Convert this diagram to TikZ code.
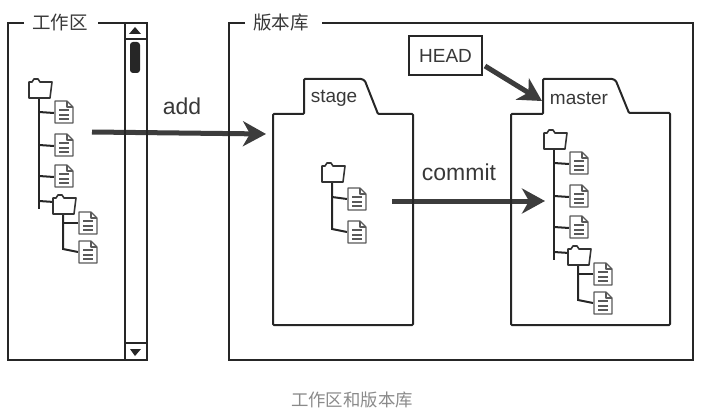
\documentclass[tikz,border=0pt]{standalone}
\usepackage{fontspec}
\setmainfont{Liberation Sans}
\newfontfamily\cjkfont{Noto Sans CJK SC}
\usetikzlibrary{arrows.meta}

\definecolor{arrowgray}{HTML}{3C3C3C}
\definecolor{labelgray}{HTML}{383838}
\definecolor{captiongray}{HTML}{8A8A8A}

\tikzset{
  frameline/.style={draw=black!85, line width=2pt},
  treeline/.style={draw=black!85, line width=2pt},
  iconline/.style={draw=black!65, line width=1.2pt, line join=round},
  flowarrow/.style={draw=arrowgray, line width=5pt, -{Stealth[length=23pt,width=25pt,inset=7pt]}},
  smalltext/.style={text=labelgray, font=\fontsize{19}{22}\selectfont},
  bigtext/.style={text=labelgray, font=\fontsize{23}{26}\selectfont},
  cjktext/.style={text=labelgray, font=\cjkfont\fontsize{18.5}{22}\selectfont},
  fileicon/.pic={
    \draw[iconline, fill=white] (-9,-11) -- (3,-11) -- (9,-5) -- (9,11) -- (-9,11) -- cycle;
    \draw[iconline] (3,-11) -- (3,-5) -- (9,-5);
    \foreach \y in {-2,3,7} {
      \draw[iconline] (-5,\y) -- (5,\y);
    }
  },
  foldericon/.pic={
    \draw[iconline, line width=1.6pt, draw=black!80, fill=white] (-11,-7) -- (-8,-7) -- (-6,-10) -- (-2,-10) -- (0,-7) -- (12,-7) -- (10,9) -- (-11,9) -- cycle;
  },
  fulltree/.pic={
    \draw[treeline] (-1,9) -- (-1,120);
    \draw[treeline] (23,125) -- (23,160) -- (38,163);
    \draw[treeline] (23,134) -- (38,134);
    \foreach \y in {23,56,87,112} {
      \draw[treeline] (-1,\y) -- (14,\y+1);
    }
    \pic at (0,0) {foldericon};
    \foreach \y in {23,56,87} {
      \pic at (24,\y) {fileicon};
    }
    \pic at (24,116) {foldericon};
    \pic at (48,134) {fileicon};
    \pic at (48,163) {fileicon};
  }
}

\begin{document}
\begin{tikzpicture}[x=1pt,y=-1pt]
  \useasboundingbox (0,0) rectangle (705,420);
  % arrows
  \coordinate (addstart) at (92,132);
  \coordinate (addend) at (266,134);
  \coordinate (commitstart) at (392,201);
  \coordinate (commitend) at (545,201);
  \coordinate (headstart) at (485,66);
  \coordinate (headend) at (542,101);
  \draw[flowarrow] (addstart) -- (addend);
  \draw[flowarrow] (commitstart) -- (commitend);
  \draw[flowarrow] (headstart) -- (headend);
  % work area
  \draw[frameline] (24,23) -- (8,23) -- (8,360) -- (147,360) -- (147,23) -- (98,23);
  \draw[frameline] (125,23) -- (125,360);
  \draw[frameline] (125,39) -- (147,39);
  \draw[frameline] (125,343) -- (147,343);
  \fill[black!85] (129,34) -- (141,34) -- (135,27) -- cycle;
  \fill[black!85] (130,349) -- (141,349) -- (135,356) -- cycle;
  \fill[black!85, rounded corners=3pt] (130,42) rectangle (140,73);
  \node[cjktext] (worklabel) at (60,22) {工作区};
  \pic at (40,89) {fulltree};
  % repository
  \draw[frameline] (245,23) -- (229,23) -- (229,360) -- (693,360) -- (693,23) -- (322,23);
  \node[cjktext] (repolabel) at (281,22) {版本库};
  % stage and master
  \draw[frameline, rounded corners=1pt] (273,325) -- (273,114) -- (304,114) -- (304,79) -- (362,79) -- (365,81) -- (378,114) -- (413,114) -- (413,325) -- cycle;
  \draw[frameline, rounded corners=1pt] (511,325) -- (511,114) -- (543,114) -- (543,79) -- (613,79) -- (616,81) -- (629,113) -- (670,113) -- (670,325) -- cycle;
  \node[smalltext] (stage) at (334,98) {stage};
  \node[smalltext] (master) at (579,98) {master};
  \node[draw=black!85, line width=2pt, fill=white, minimum width=73pt, minimum height=39pt, inner sep=0pt, smalltext] (head) at (445.5,55.5) {HEAD};
  % stage tree
  \draw[treeline] (332,182) -- (332,229) -- (347,232);
  \draw[treeline] (332,197) -- (347,199);
  \pic at (333,173) {foldericon};
  \foreach \y in {199,232} {
    \pic at (357,\y) {fileicon};
  }
  \pic at (555,140) {fulltree};
  \node[bigtext] (addlabel) at (182,106) {add};
  \node[bigtext] (commitlabel) at (459,172) {commit};
  \node[text=captiongray, font=\cjkfont\fontsize{17.4}{20}\selectfont] (caption) at (352,400) {工作区和版本库};
\end{tikzpicture}
\end{document}
